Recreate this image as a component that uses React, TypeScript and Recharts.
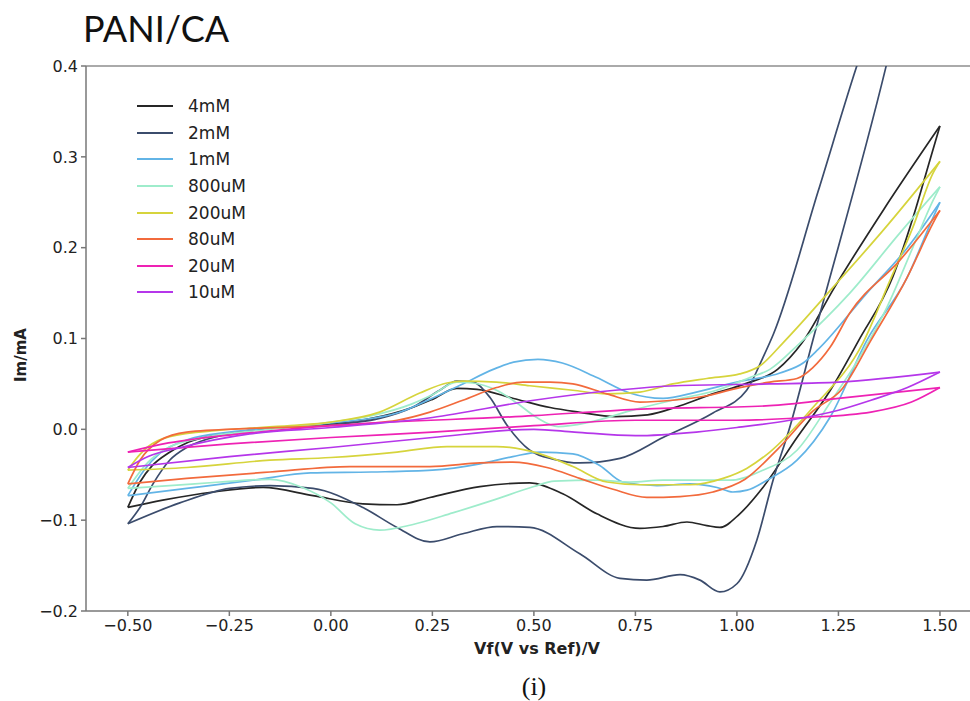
import React from 'react';
import { ScatterChart, Scatter, XAxis, YAxis, ReferenceLine, Legend } from 'recharts';

type Pt = [number, number];

// Cyclic voltammograms of PANI/CA: forward (anodic) and reverse (cathodic) sweeps, [V, mA]
const concentrations = ['4mM', '2mM', '1mM', '800uM', '200uM', '80uM', '20uM', '10uM'];
const colors = ['#262626', '#3b4c6c', '#62b4e6', '#9eeccb', '#d6d43c', '#f26a3c', '#ee22b4', '#b536ea'];

const fwd4mM: Pt[] = [
  [-0.5, -0.086], [-0.47, -0.058], [-0.44, -0.04], [-0.4, -0.026], [-0.35, -0.014], [-0.25, -0.004],
  [-0.15, 0.001], [0, 0.006], [0.1, 0.012], [0.2, 0.024], [0.25, 0.033], [0.31, 0.045], [0.36, 0.044],
  [0.45, 0.034], [0.54, 0.024], [0.61, 0.019], [0.7, 0.014], [0.78, 0.016], [0.86, 0.026], [0.94, 0.039],
  [1.02, 0.05], [1.1, 0.066], [1.16, 0.095], [1.24, 0.156], [1.36, 0.241], [1.5, 0.334],
];
const rev4mM: Pt[] = [
  [1.5, 0.334], [1.475, 0.296], [1.433, 0.232], [1.384, 0.168], [1.3, 0.098], [1.23, 0.043], [1.148, -0.009],
  [1.064, -0.064], [1.007, -0.093], [0.958, -0.108], [0.926, -0.106], [0.877, -0.102], [0.818, -0.107],
  [0.761, -0.109], [0.655, -0.093], [0.571, -0.071], [0.49, -0.059], [0.367, -0.063], [0.244, -0.075],
  [0.163, -0.083], [0.079, -0.082], [-0.044, -0.073], [-0.167, -0.064], [-0.29, -0.069], [-0.414, -0.078],
  [-0.5, -0.086],
];

const fwd2mM: Pt[] = [
  [-0.5, -0.104], [-0.47, -0.086], [-0.438, -0.06], [-0.397, -0.034], [-0.355, -0.02], [-0.273, -0.007],
  [-0.15, 0.001], [-0.027, 0.004], [0.12, 0.012], [0.2, 0.024], [0.268, 0.043], [0.31, 0.053], [0.35, 0.052],
  [0.392, 0.035], [0.433, 0.005], [0.49, -0.023], [0.55, -0.033], [0.613, -0.037], [0.712, -0.032],
  [0.818, -0.009], [0.941, 0.018], [1.024, 0.043], [1.064, 0.079], [1.09, 0.105], [1.2, 0.262],
  [1.288, 0.39], [1.5, 0.66],
];
const rev2mM: Pt[] = [
  [1.5, 0.66], [1.367, 0.399], [1.187, 0.098], [1.13, 0.002], [1.089, -0.056], [1.049, -0.122], [1.0, -0.17],
  [0.958, -0.179], [0.909, -0.166], [0.86, -0.16], [0.778, -0.166], [0.712, -0.164], [0.613, -0.137],
  [0.49, -0.108], [0.409, -0.107], [0.325, -0.115], [0.244, -0.124], [0.163, -0.108], [0.079, -0.086],
  [-0.044, -0.065], [-0.15, -0.062], [-0.249, -0.065], [-0.372, -0.081], [-0.5, -0.104],
];

const fwd1mM: Pt[] = [
  [-0.5, -0.073], [-0.46, -0.045], [-0.42, -0.026], [-0.35, -0.011], [-0.25, -0.003], [-0.1, 0.003],
  [0, 0.007], [0.163, 0.018], [0.244, 0.033], [0.325, 0.05], [0.4, 0.066], [0.45, 0.074], [0.51, 0.077],
  [0.57, 0.073], [0.655, 0.057], [0.736, 0.04], [0.818, 0.034], [0.9, 0.041], [1.0, 0.052], [1.106, 0.062],
  [1.163, 0.073], [1.2, 0.088], [1.32, 0.15], [1.42, 0.2], [1.5, 0.25],
];
const rev1mM: Pt[] = [
  [1.5, 0.25], [1.483, 0.233], [1.419, 0.167], [1.32, 0.098], [1.229, 0.013], [1.148, -0.034],
  [1.074, -0.056], [1.025, -0.067], [0.99, -0.069], [0.951, -0.064], [0.884, -0.06], [0.803, -0.062],
  [0.719, -0.058], [0.663, -0.04], [0.596, -0.027], [0.515, -0.025], [0.448, -0.03], [0.367, -0.038],
  [0.25, -0.045], [0.1, -0.047], [-0.05, -0.048], [-0.192, -0.056], [-0.355, -0.065], [-0.5, -0.073],
];

const fwd800uM: Pt[] = [
  [-0.5, -0.065], [-0.45, -0.036], [-0.4, -0.02], [-0.3, -0.008], [-0.15, 0.0], [0, 0.008], [0.1, 0.015],
  [0.2, 0.028], [0.25, 0.038], [0.31, 0.052], [0.35, 0.051], [0.408, 0.043], [0.458, 0.029], [0.507, 0.013],
  [0.56, 0.003], [0.638, 0.008], [0.75, 0.022], [0.842, 0.032], [0.95, 0.043], [1.032, 0.057],
  [1.081, 0.066], [1.155, 0.095], [1.278, 0.15], [1.401, 0.216], [1.5, 0.267],
];
const rev800uM: Pt[] = [
  [1.5, 0.267], [1.483, 0.252], [1.433, 0.2], [1.369, 0.134], [1.303, 0.08], [1.229, 0.029], [1.148, -0.023],
  [1.064, -0.045], [0.983, -0.056], [0.9, -0.056], [0.818, -0.056], [0.736, -0.058], [0.655, -0.056],
  [0.55, -0.057], [0.5, -0.063], [0.4, -0.078], [0.3, -0.092], [0.2, -0.105], [0.12, -0.111], [0.06, -0.104],
  [0.0, -0.081], [-0.07, -0.064], [-0.15, -0.055], [-0.273, -0.058], [-0.397, -0.062], [-0.5, -0.065],
];

const fwd200uM: Pt[] = [
  [-0.5, -0.045], [-0.475, -0.03], [-0.453, -0.02], [-0.397, -0.008], [-0.273, -0.001], [-0.1, 0.004],
  [0, 0.008], [0.12, 0.019], [0.219, 0.04], [0.286, 0.051], [0.325, 0.053], [0.408, 0.052], [0.49, 0.048],
  [0.596, 0.043], [0.68, 0.039], [0.761, 0.041], [0.842, 0.05], [0.926, 0.056], [1.007, 0.061],
  [1.057, 0.07], [1.113, 0.095], [1.236, 0.156], [1.36, 0.219], [1.5, 0.295],
];
const rev200uM: Pt[] = [
  [1.5, 0.295], [1.483, 0.282], [1.433, 0.222], [1.377, 0.164], [1.31, 0.095], [1.187, 0.024],
  [1.081, -0.025], [1.024, -0.043], [0.966, -0.054], [0.884, -0.061], [0.761, -0.061], [0.68, -0.058],
  [0.596, -0.041], [0.515, -0.027], [0.408, -0.019], [0.286, -0.019], [0.163, -0.025], [0.0, -0.031],
  [-0.15, -0.034], [-0.355, -0.042], [-0.5, -0.045],
];

const fwd80uM: Pt[] = [
  [-0.5, -0.06], [-0.47, -0.034], [-0.42, -0.012], [-0.355, -0.003], [-0.2, 0.001], [0, 0.004],
  [0.163, 0.01], [0.244, 0.019], [0.325, 0.032], [0.408, 0.046], [0.473, 0.052], [0.54, 0.052],
  [0.596, 0.05], [0.68, 0.039], [0.761, 0.03], [0.842, 0.032], [0.926, 0.037], [1.007, 0.046],
  [1.081, 0.052], [1.148, 0.056], [1.187, 0.068], [1.229, 0.09], [1.278, 0.128], [1.401, 0.186], [1.5, 0.241],
];
const rev80uM: Pt[] = [
  [1.5, 0.241], [1.483, 0.227], [1.419, 0.167], [1.33, 0.098], [1.26, 0.045], [1.187, 0.02], [1.1, -0.022],
  [1.02, -0.055], [0.941, -0.069], [0.86, -0.074], [0.778, -0.075], [0.695, -0.066], [0.613, -0.054],
  [0.532, -0.042], [0.448, -0.036], [0.367, -0.037], [0.244, -0.041], [0.047, -0.041], [-0.15, -0.047],
  [-0.355, -0.054], [-0.5, -0.06],
];

const fwd20uM: Pt[] = [
  [-0.5, -0.025], [-0.4, -0.015], [-0.2, -0.004], [0, 0.004], [0.5, 0.015], [0.75, 0.022], [1.08, 0.026],
  [1.25, 0.034], [1.5, 0.046],
];
const rev20uM: Pt[] = [
  [1.5, 0.046], [1.43, 0.03], [1.33, 0.019], [1.17, 0.013], [1.0, 0.01], [0.75, 0.01], [0.5, 0.004],
  [0.25, -0.003], [0, -0.009], [-0.25, -0.016], [-0.5, -0.025],
];

const fwd10uM: Pt[] = [
  [-0.5, -0.042], [-0.45, -0.03], [-0.37, -0.02], [-0.2, -0.005], [0, 0.002], [0.25, 0.013], [0.5, 0.032],
  [0.7, 0.043], [0.85, 0.048], [1.08, 0.05], [1.25, 0.052], [1.5, 0.063],
];
const rev10uM: Pt[] = [
  [1.5, 0.063], [1.42, 0.046], [1.33, 0.032], [1.25, 0.021], [1.13, 0.01], [1.0, 0.002], [0.9, -0.003],
  [0.75, -0.007], [0.6, -0.003], [0.5, 0.0], [0.25, -0.009], [0, -0.02], [-0.25, -0.03], [-0.5, -0.042],
];

const forwardSweeps = [fwd4mM, fwd2mM, fwd1mM, fwd800uM, fwd200uM, fwd80uM, fwd20uM, fwd10uM];
const reverseSweeps = [rev4mM, rev2mM, rev1mM, rev800uM, rev200uM, rev80uM, rev20uM, rev10uM];

const xTicks = [-0.5, -0.25, 0, 0.25, 0.5, 0.75, 1, 1.25, 1.5];
const yTicks = [-0.2, -0.1, 0, 0.1, 0.2, 0.3, 0.4];

// monotoneX needs ascending x, so each branch is sorted before drawing
const toPoints = (pts: Pt[]) => pts.map(([x, y]) => ({ x, y })).sort((a, b) => a.x - b.x);

const series = concentrations.map((name, i) => ({
  name,
  color: colors[i],
  forward: toPoints(forwardSweeps[i]),
  reverse: toPoints(reverseSweeps[i]),
}));

const minus = (s: string) => s.replace('-', '\u2212');
const fmtX = (v: number) => minus(v.toFixed(2));
const fmtY = (v: number) => minus(v.toFixed(1));

const noDot = () => <g />;

const tickStyle = { fontFamily: 'DejaVu Sans', fontSize: 16, fill: '#222' };

const LegendBox = () => (
  <div style={{ fontFamily: 'DejaVu Sans', fontSize: 17, color: '#222' }}>
    {series.map((s) => (
      <div key={s.name} style={{ display: 'flex', alignItems: 'center', height: 26.6 }}>
        <span style={{ display: 'inline-block', width: 36, height: 2, background: s.color, marginRight: 15 }} />
        <span>{s.name}</span>
      </div>
    ))}
  </div>
);

export default function App() {
  return (
    <div style={{ position: 'absolute', left: 0, top: 0, width: 970, height: 701, background: '#fff', overflow: 'hidden' }}>
      <div style={{ position: 'absolute', left: 83, top: 6, fontFamily: 'Lato', fontSize: 36, color: '#111', lineHeight: '44px' }}>
        PANI/CA
      </div>
      <ScatterChart width={970} height={701} margin={{ top: 66, right: 0, bottom: 50, left: 0 }}>
        <XAxis
          type="number"
          dataKey="x"
          domain={[-0.603, 1.574]}
          allowDataOverflow
          ticks={xTicks}
          interval={0}
          tickFormatter={fmtX}
          tick={tickStyle}
          tickSize={5}
          tickMargin={4}
          height={40}
          stroke="#777"
          strokeWidth={1.5}
          label={{
            content: () => (
              <text x={537} y={654} textAnchor="middle" fontFamily="DejaVu Sans" fontWeight="bold" fontSize={16} fill="#222">
                Vf(V vs Ref)/V
              </text>
            ),
          }}
        />
        <YAxis
          type="number"
          dataKey="y"
          domain={[-0.2, 0.4]}
          allowDataOverflow
          ticks={yTicks}
          interval={0}
          tickFormatter={fmtY}
          tick={tickStyle}
          tickSize={5}
          tickMargin={3}
          width={86}
          stroke="#777"
          strokeWidth={1.5}
          label={{
            content: () => (
              <text x={26} y={355} transform="rotate(-90 26 355)" textAnchor="middle" fontFamily="DejaVu Sans" fontWeight="bold" fontSize={15} fill="#222">
                Im/mA
              </text>
            ),
          }}
        />
        <ReferenceLine y={0.4} stroke="#aaa" strokeWidth={2} />
        {series.map((s) => [
          <Scatter
            key={`${s.name}-fwd`}
            data={s.forward}
            line={{ stroke: s.color, strokeWidth: 1.7 }}
            lineJointType="monotoneX"
            shape={noDot}
            legendType="none"
            isAnimationActive={false}
          />,
          <Scatter
            key={`${s.name}-rev`}
            data={s.reverse}
            line={{ stroke: s.color, strokeWidth: 1.7 }}
            lineJointType="monotoneX"
            shape={noDot}
            legendType="none"
            isAnimationActive={false}
          />,
        ])}
        <Legend
          layout="vertical"
          align="center"
          verticalAlign="middle"
          wrapperStyle={{ left: 137, top: 93, width: 'auto' }}
          content={() => <LegendBox />}
        />
      </ScatterChart>
      <div style={{ position: 'absolute', left: 0, width: 1068, top: 672, textAlign: 'center', fontFamily: 'Liberation Serif', fontSize: 26, color: '#111' }}>
        (i)
      </div>
    </div>
  );
}
